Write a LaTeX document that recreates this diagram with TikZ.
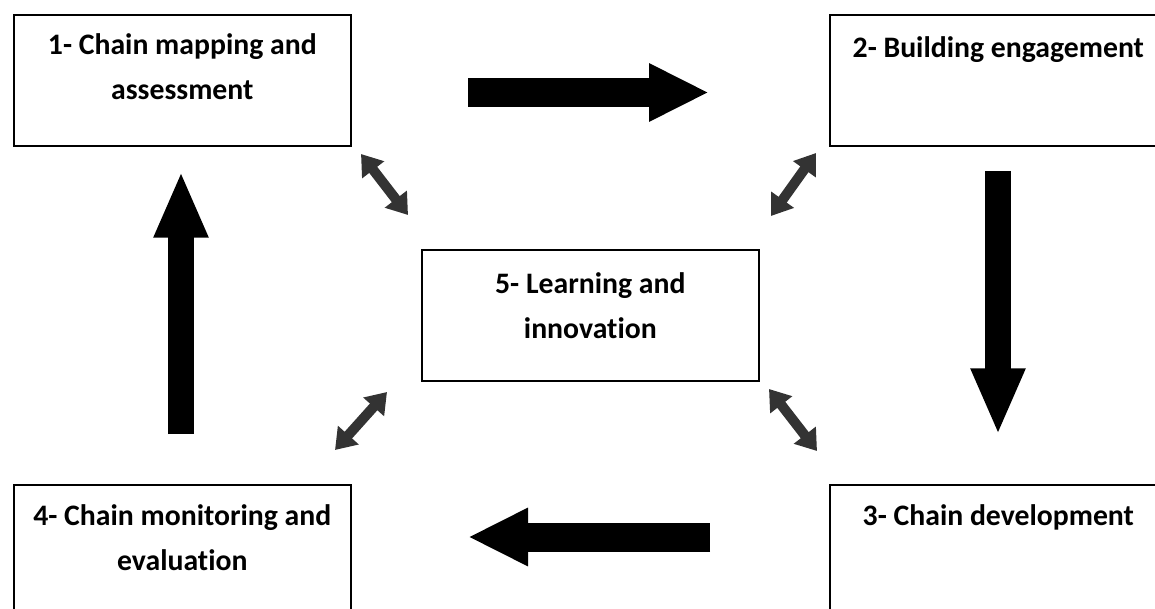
\documentclass[tikz,border=0pt]{standalone}
\usepackage{fontspec}
\setmainfont{Carlito}[Ligatures=NoCommon]
\usetikzlibrary{arrows.meta}
\definecolor{linkgray}{RGB}{51,51,51}
% one drawing unit = 0.75pt
\newlength\pxu
\setlength\pxu{0.75pt}
% stage box body: fixed size, text hung from the top at a given baseline depth
\newcommand\stagebody[2]{\parbox[t][131\pxu][t]{337\pxu}{\centering\rule{0pt}{#1\pxu}#2}}
\begin{document}
\begin{tikzpicture}[x=0.75pt,y=-0.75pt,
  stage/.style={draw=black, line width=1.2pt, fill=white, inner sep=0pt,
    anchor=north west, font=\fontsize{22.3}{33.75}\selectfont\bfseries},
  flowh/.style={draw=black, line width=21.75pt,
    -{Triangle[length=45pt,width=40.5pt]}},
  flowv/.style={draw=black, line width=19.5pt,
    -{Triangle[length=50pt,width=37.5pt]}},
  link/.style={draw=linkgray, line width=7.5pt,
    {Triangle[length=15pt,width=20pt]}-{Triangle[length=15pt,width=20pt]}}]
\clip (0,0) rectangle (1155,609);
\fill[white] (0,0) rectangle (1155,609);

% stages
\node[stage] (s1) at (13,14)   {\stagebody{40}{1- Chain mapping and\\assessment}};
\node[stage] (s2) at (829,14)  {\stagebody{43}{2- Building engagement}};
\node[stage] (s3) at (829,484) {\stagebody{41}{3- Chain development}};
\node[stage] (s4) at (13,484)  {\stagebody{41}{4- Chain monitoring and\\evaluation}};
\node[stage] (s5) at (421,249) {\stagebody{44}{5- Learning and\\innovation}};

% ends of the cycle arrows
\coordinate (c12a) at (468,92.5);
\coordinate (c12b) at (709,92.5);
\coordinate (c23a) at (998,171);
\coordinate (c23b) at (998,435);
\coordinate (c34a) at (710,537);
\coordinate (c34b) at (468,537);
\coordinate (c41a) at (181,434);
\coordinate (c41b) at (181,171);

\draw[flowh] (c12a) -- (c12b);
\draw[flowv] (c23a) -- (c23b);
\draw[flowh] (c34a) -- (c34b);
\draw[flowv] (c41a) -- (c41b);

% ends of the links to the centre stage
\coordinate (l1a) at (361,154);
\coordinate (l1b) at (408,215);
\coordinate (l2a) at (816,153);
\coordinate (l2b) at (771,216);
\coordinate (l3a) at (769,389);
\coordinate (l3b) at (817,451);
\coordinate (l4a) at (387,392);
\coordinate (l4b) at (335,450);

\draw[link] (l1a) -- (l1b);
\draw[link] (l2a) -- (l2b);
\draw[link] (l3a) -- (l3b);
\draw[link] (l4a) -- (l4b);
\end{tikzpicture}
\end{document}
